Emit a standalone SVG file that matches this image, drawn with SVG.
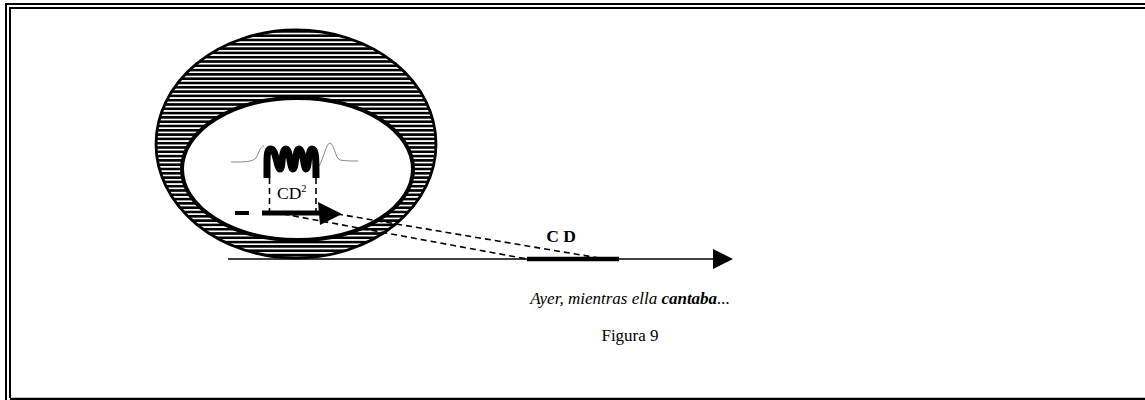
<svg xmlns="http://www.w3.org/2000/svg" width="1145" height="400" viewBox="0 0 1145 400">
<style>
.frame{fill:none;stroke:#000;stroke-width:2}
.dash{fill:none;stroke:#000;stroke-width:1.6;stroke-dasharray:6,4}
.serif{font-family:"Liberation Serif","Times New Roman",serif;fill:#000}
</style>
<defs>
<pattern id="hatch" patternUnits="userSpaceOnUse" width="10" height="4.3">
<rect x="0" y="0" width="10" height="2.6" fill="#000"/>
</pattern>
<marker id="arr" viewBox="0 0 20 20" refX="18" refY="10" markerWidth="20" markerHeight="20" markerUnits="userSpaceOnUse" orient="auto">
<path d="M0,0 L20,10 L0,20 Z" fill="#000"/>
</marker>
</defs>
<rect width="1145" height="400" fill="#fff"/>
<g id="frame">
<path class="frame" d="M6,400 V4 H1145"/>
<path class="frame" d="M10,398 V8 H1145"/>
<line x1="10" y1="399" x2="1145" y2="399" stroke="#000" stroke-width="2.5"/>
</g>
<g id="ring">
<path d="M156,144 A140,114 0 1,0 436,144 A140,114 0 1,0 156,144 Z M182,169 A115.5,71 0 1,0 413,169 A115.5,71 0 1,0 182,169 Z" fill="url(#hatch)" fill-rule="evenodd"/>
<ellipse cx="296" cy="144" rx="140" ry="114" fill="none" stroke="#000" stroke-width="2.8"/>
<ellipse cx="297.5" cy="169" rx="115.5" ry="71" fill="#fff" stroke="#000" stroke-width="4"/>
</g>
<g id="wave">
<path d="M231,162 C245,162 252,162 256,158 C259,153 260,146 264,146" fill="none" stroke="#888" stroke-width="1"/>
<path d="M319,166 C324,158 326,143 330,143 C334,143 335,158 340,160 C345,161 352,161 358,161" fill="none" stroke="#888" stroke-width="1"/>
<path d="M267,178 L267,162 C267,152 268,149 271,149 C276,149 277,169 280,169 C283,169 281,149 286,149 C290,149 290,169 293,169 C296,169 295,149 299,149 C303,149 304,169 306,169 C309,169 308,149 312,149 C316,149 316,158 316,178" fill="none" stroke="#000" stroke-width="7" stroke-linejoin="round"/>
</g>
<g id="cd2">
<line class="dash" x1="269.5" y1="178" x2="269.5" y2="212" stroke-dasharray="5,3"/>
<line class="dash" x1="316" y1="178" x2="316" y2="212" stroke-dasharray="5,3"/>
<text class="serif" x="277" y="199" font-size="17.5">CD<tspan font-size="10.5" dy="-7">2</tspan></text>
</g>
<g id="inner-arrow">
<line x1="235" y1="213" x2="249" y2="213" stroke="#000" stroke-width="4"/>
<line x1="262" y1="213" x2="322" y2="213" stroke="#000" stroke-width="5"/>
<path d="M318,202 L342,214 L320,225 Z" fill="#000"/>
</g>
<g id="connectors">
<line class="dash" x1="283" y1="214" x2="527" y2="259"/>
<line class="dash" x1="337" y1="214" x2="605" y2="259"/>
<line x1="228" y1="259" x2="731" y2="259" stroke="#000" stroke-width="1.6" marker-end="url(#arr)"/>
<line x1="527" y1="259" x2="619" y2="259" stroke="#000" stroke-width="4.5"/>
</g>
<g id="cd">
<text class="serif" x="561" y="242" font-size="17.5" font-weight="bold" text-anchor="middle">C D</text>
</g>
<g id="caption">
<text class="serif" x="630" y="304" font-size="17" font-style="italic" text-anchor="middle">Ayer, mientras ella <tspan font-weight="bold">cantaba</tspan>...</text>
<text class="serif" x="630" y="341" font-size="17" text-anchor="middle">Figura 9</text>
</g>
</svg>
